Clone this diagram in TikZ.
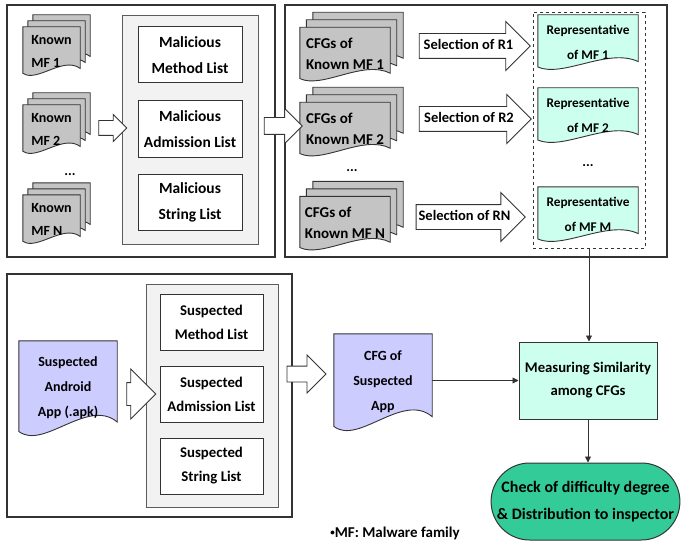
\documentclass[tikz,border=0pt]{standalone}
\usepackage{fontspec}
\setmainfont{Carlito}
\usetikzlibrary{arrows.meta,positioning,calc,backgrounds,shapes.arrows,shapes.misc}
\definecolor{mwInk}{HTML}{333333}
\definecolor{mwGray}{HTML}{C4C4C4}
\definecolor{mwPanel}{HTML}{F2F2F2}
\definecolor{mwAqua}{HTML}{CCFFEE}
\definecolor{mwLilac}{HTML}{CCCCFF}
\definecolor{mwGreen}{HTML}{33CC99}
\newcommand{\mwfont}[2]{\fontsize{#1}{#2}\selectfont\bfseries}
\tikzset{
  frame/.style    ={draw=mwInk,line width=1.2pt,inner sep=0pt},
  panel/.style    ={draw=mwInk!80,line width=0.8pt,fill=mwPanel,inner sep=0pt},
  listbox/.style  ={draw=mwInk,line width=1pt,fill=white,align=center,inner sep=0pt},
  docnode/.style  ={inner sep=0pt,align=center},
  stacknode/.style={inner sep=0pt,align=left},
  docline/.style  ={draw=mwInk,line width=0.9pt},
  hollow/.style   ={single arrow,draw=mwInk,fill=white,line width=0.9pt,
                    single arrow head indent=0pt,single arrow tip angle=90,
                    text height=0pt,text depth=0pt,inner xsep=0pt},
  selarrow/.style ={hollow,text height=10pt,text depth=3pt,inner ysep=5.5pt,
                    inner xsep=2pt,single arrow head extend=12pt,font=\mwfont{14.5}{17}},
  repset/.style   ={draw=mwInk,line width=0.8pt,dashed,inner sep=0pt},
  flow/.style     ={-{Triangle[length=6pt,width=6pt]},mwInk,line width=0.9pt},
  dots/.style     ={inner sep=0pt},
}
% page of a document: node, dx, dy (down), fill
\newcommand{\docpage}[4]{%
  \path[docline,fill=#4] let \p1=(#1.north west), \p2=(#1.south east), \n1={\y1-\y2} in
    ({\x1+(#2pt)},{\y1-(#3pt)}) -- ({\x2+(#2pt)},{\y1-(#3pt)})
    -- ({\x2+(#2pt)},{\y2+0.14*\n1-(#3pt)})
    .. controls ({0.3*\x1+0.7*\x2+(#2pt)},{\y2+0.40*\n1-(#3pt)})
            and ({0.75*\x1+0.25*\x2+(#2pt)},{\y2-0.16*\n1-(#3pt)})
    .. ({\x1+(#2pt)},{\y2+0.04*\n1-(#3pt)}) -- cycle;}

\begin{document}
\begin{tikzpicture}[x=1pt,y=-1pt,font=\mwfont{14}{25}]
\useasboundingbox (0,0) rectangle (681,543);

% frames
\node[frame,minimum width=268pt,minimum height=252pt] (known) at (141,131) {};
\node[frame,minimum width=382pt,minimum height=252pt] (cfgset) at (476,131) {};
\node[frame,minimum width=285pt,minimum height=243pt] (suspect) at (149.5,395.5) {};

% malicious lists
\node[panel,minimum width=136pt,minimum height=229pt] (mpanel) at (190,129.5) {};
\begin{scope}[every node/.append style={listbox,minimum width=104pt,minimum height=56pt,font=\mwfont{15.5}{26}}]
\node (mlist) at (190,55) {Malicious\\Method List};
\node[below=17pt of mlist] (alist) {Malicious\\Admission List};
\node[below=16pt of alist] (slist) {Malicious\\String List};
\end{scope}

% known families
\begin{scope}[every node/.append style={stacknode,font=\mwfont{14}{23},minimum width=57pt,minimum height=48pt}]
\node (kmf1) at (51.5,51) {Known\\MF 1};
\node (kmf2) at (51.5,129) {Known\\MF 2};
\node (kmfn) at (51.5,219) {Known\\MF N};
\end{scope}
\node[dots] (kdots) at (70,175) {...};

% CFGs of known families
\begin{scope}[every node/.append style={stacknode,font=\mwfont{15}{21},minimum width=90pt,minimum height=53pt}]
\node (cfg1) at (345,54) {CFGs of\\Known MF 1};
\node (cfg2) at (345,129) {CFGs of\\Known MF 2};
\node (cfgn) at (345,223) {CFGs of\\Known MF N};
\end{scope}
\node[dots] (cdots) at (352,171) {...};

% representatives
\node[repset,minimum width=112pt,minimum height=236pt] (reps) at (589,130) {};
\begin{scope}[every node/.append style={docnode,font=\mwfont{13.3}{25},minimum width=100pt,minimum height=54pt}]
\node (rep1) at (588,42) {Representative\\of MF 1};
\node (rep2) at (588,115) {Representative\\of MF 2};
\node (repm) at (588,214) {Representative\\of MF M};
\end{scope}
\node[dots] (rdots) at (588,166) {...};

% selection arrows
\node[selarrow,minimum height=111pt] (sel1) at (468.5,46) {Selection of R1};
\node[selarrow,minimum height=112pt] (sel2) at (469,119) {Selection of R2};
\node[selarrow,minimum height=105pt] (seln) at (464.5,217) {Selection of RN};

% suspected app
\node[panel,minimum width=132pt,minimum height=223pt] (spanel) at (212,395.5) {};
\begin{scope}[every node/.append style={listbox,minimum width=103pt,minimum height=56pt,font=\mwfont{14.8}{24}}]
\node (smeth) at (211.5,322) {Suspected\\Method List};
\node[below=15pt of smeth] (sadm) {Suspected\\Admission List};
\node[below=15pt of sadm] (sstr) {Suspected\\String List};
\end{scope}
\node[docnode,minimum width=98pt,minimum height=94pt] (app) at (68,388) {Suspected\\Android\\App (.apk)};
\node[docnode,minimum width=98pt,minimum height=96pt] (cfgapp) at (383,382) {CFG of\\Suspected\\App};

% hollow arrows
\node[hollow,minimum height=28pt,inner ysep=7pt,single arrow head extend=6pt] (ha1) at (109,128) {};
\node[hollow,minimum height=38pt,inner ysep=8pt,single arrow head extend=9pt] (ha2) at (279,126) {};
\node[hollow,minimum height=29pt,inner ysep=11pt,single arrow head extend=13.5pt] (ha3) at (135.5,394) {};
\node[hollow,minimum height=39pt,inner ysep=7.5pt,single arrow head extend=11pt] (ha4) at (302.5,374) {};

% similarity and result
\node[draw=mwInk,line width=1pt,fill=mwAqua,align=center,inner sep=0pt,
      minimum width=138pt,minimum height=77pt,font=\mwfont{14.7}{23}] (measure) at (588,380.5)
  {Measuring Similarity\\among CFGs};
\node[rounded rectangle,draw=mwInk,line width=1pt,fill=mwGreen,align=center,inner sep=0pt,
      minimum width=185pt,minimum height=77pt,font=\mwfont{16}{27}] (term) at (585.5,501.5)
  {Check of difficulty degree\\\& Distribution to inspector};
\node[inner sep=0pt,font=\mwfont{15}{18}] (note) at (395,533) {{\fontsize{9}{9}\selectfont\raisebox{0.25ex}{•}}MF: Malware family};

\draw[flow] (reps.south) -- (reps.south |- measure.north);
\draw[flow] (cfgapp.east |- measure.west) -- (measure.west);
\draw[flow] (measure.south) -- (measure.south |- term.north);

\begin{scope}[on background layer]
\foreach \d in {kmf1,kmf2,kmfn}{
  \docpage{\d}{10}{-12}{mwGray}
  \docpage{\d}{5}{-6}{mwGray}
  \docpage{\d}{0}{0}{mwGray}
}
\foreach \d in {cfg1,cfg2,cfgn}{
  \docpage{\d}{13}{-15}{mwGray}
  \docpage{\d}{6.5}{-7.5}{mwGray}
  \docpage{\d}{0}{0}{mwGray}
}
\foreach \d in {rep1,rep2,repm}{\docpage{\d}{0}{0}{mwAqua}}
\docpage{app}{0}{0}{mwLilac}
\docpage{cfgapp}{0}{0}{mwLilac}
\end{scope}
\end{tikzpicture}
\end{document}
